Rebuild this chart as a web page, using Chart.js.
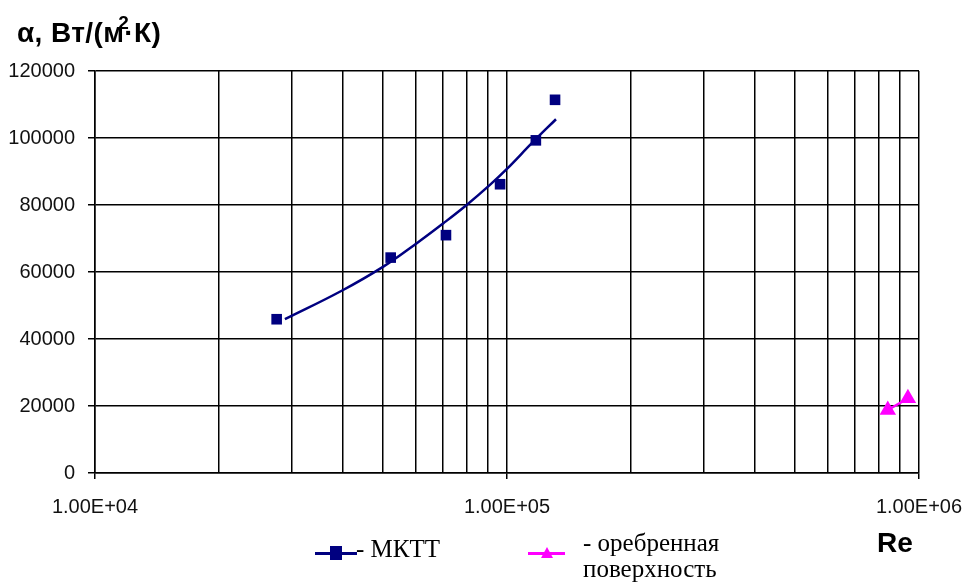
<!DOCTYPE html>
<html>
    <head>
        <meta charset="utf-8">
        <title>alpha vs Re</title>
        <script src="https://cdn.jsdelivr.net/npm/chart.js"></script>
        <style>
            body { margin: 0; background: #fff; }
            #wrap { position: relative; width: 976px; height: 582px; }
            #ytitle { position: absolute; left: 17px; top: 17px; font: bold 28px "Liberation Sans", Arial, sans-serif; letter-spacing: 0.4px; color: #000; white-space: nowrap; }
            #ytitle .sq { display: inline-block; width: 0; position: relative; top: -13px; left: -6px; font-size: 19px; }
            #retitle { position: absolute; left: 877px; top: 527px; font: bold 28px "Liberation Sans", Arial, sans-serif; color: #000; }
            .leg { position: absolute; font: 25px "Liberation Serif", "Times New Roman", serif; color: #000; line-height: 26px; white-space: nowrap; }
            .lline { position: absolute; height: 3px; }
        </style>
    </head>
    <body>
        <div id="wrap">
            <canvas id="chart" width="976" height="582"></canvas>
            <div id="ytitle">α, Вт/(м<span class="sq">2</span>·К)</div>
            <div id="retitle">Re</div>
            <!-- legend -->
            <div class="lline" style="left:315px; top:552px; width:42px; background:#000080;"></div>
            <div style="position:absolute; left:330px; top:546px; width:12px; height:14px; background:#000080;"></div>
            <div class="leg" style="left:356px; top:536px;">- МКТТ</div>
            <div class="lline" style="left:528px; top:552px; width:37px; background:#ff00ff;"></div>
            <div style="position:absolute; left:541px; top:547px; width:0; height:0; border-left:6px solid transparent; border-right:6px solid transparent; border-bottom:11px solid #ff00ff;"></div>
            <div class="leg" style="left:583px; top:530px;">- оребренная<br>поверхность</div>
        </div>
        <script>
            // МКТТ measured points
            const reMktt = [27600, 52200, 71100, 96200, 117500, 130800];
            const alphaMktt = [45900, 64300, 71000, 86200, 99300, 111400];
            // trend line
            const reTrend = [28900, 39700, 50100, 60400, 70000, 79800, 90900, 99800, 115800, 131500];
            const alphaTrend = [45900, 54400, 61600, 68600, 74500, 80000, 86000, 90700, 98900, 105600];
            // оребренная поверхность
            const reRib = [840000, 940000];
            const alphaRib = [18800, 22300];
            // axis ticks
            const xTicks = [10000, 20000, 30000, 40000, 50000, 60000, 70000, 80000, 90000,
                            100000, 200000, 300000, 400000, 500000, 600000, 700000, 800000, 900000, 1000000];
            const xLabels = {10000: '1.00E+04', 100000: '1.00E+05', 1000000: '1.00E+06'};

            const pts = (xs, ys) => xs.map((x, i) => ({x: x, y: ys[i]}));
            const tickFont = {family: '"Liberation Sans", Arial, sans-serif', size: 20};

            new Chart(document.getElementById('chart'), {
                type: 'scatter',
                data: {
                    datasets: [{
                        label: 'trend',
                        data: pts(reTrend, alphaTrend),
                        showLine: true,
                        borderColor: '#000080',
                        borderWidth: 2.5,
                        pointRadius: 0,
                        tension: 0.4
                    }, {
                        label: 'МКТТ',
                        data: pts(reMktt, alphaMktt),
                        pointStyle: 'rect',
                        pointRadius: 7.5,
                        backgroundColor: '#000080',
                        borderColor: '#000080',
                        borderWidth: 0
                    }, {
                        label: 'оребренная поверхность',
                        data: pts(reRib, alphaRib),
                        showLine: true,
                        borderColor: '#ff00ff',
                        borderWidth: 2.5,
                        pointStyle: 'triangle',
                        pointRadius: 7,
                        backgroundColor: '#ff00ff'
                    }]
                },
                options: {
                    responsive: false,
                    animation: false,
                    layout: { padding: {left: 0, top: 71, right: 57, bottom: 69} },
                    plugins: { legend: { display: false }, tooltip: { enabled: false } },
                    scales: {
                        x: {
                            type: 'logarithmic',
                            min: 10000,
                            max: 1000000,
                            afterBuildTicks: (scale) => { scale.ticks = xTicks.map(v => ({value: v})); },
                            afterFit: (scale) => {
                                scale.height = 40;
                                scale.paddingLeft = 0;
                                scale.paddingRight = 0;
                            },
                            ticks: {
                                autoSkip: false,
                                maxRotation: 0,
                                color: '#111',
                                font: tickFont,
                                padding: 16,
                                callback: (v) => xLabels[v] || ''
                            },
                            grid: {
                                color: '#000',
                                lineWidth: 1.5,
                                tickLength: 6,
                                tickColor: (ctx) => (ctx.tick && xLabels[ctx.tick.value]) ? '#000' : 'rgba(0,0,0,0)'
                            },
                            border: { color: '#000', width: 1.5 }
                        },
                        y: {
                            min: 0,
                            max: 120000,
                            afterFit: (scale) => { scale.width = 95; },
                            ticks: {
                                stepSize: 20000,
                                color: '#111',
                                font: tickFont,
                                padding: 13,
                                callback: (v) => String(v)
                            },
                            grid: { color: '#000', lineWidth: 1.5, tickLength: 7 },
                            border: { color: '#000', width: 1.5 }
                        }
                    }
                }
            });
        </script>
    </body>
</html>
